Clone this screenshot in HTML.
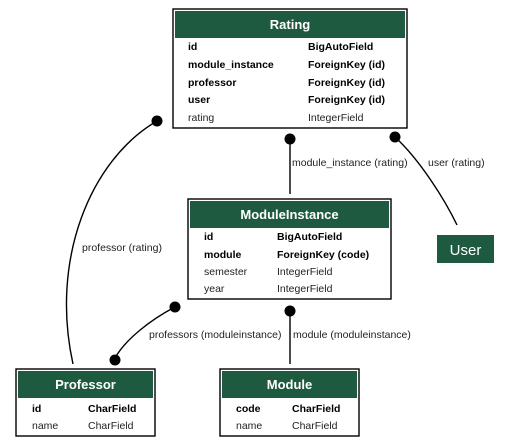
<!DOCTYPE html>
<html><head><meta charset="utf-8"><style>
html,body{margin:0;padding:0;background:#fff;}
svg{display:block;font-family:"Liberation Sans",Arial,sans-serif;}
.h{fill:#fff;font-weight:bold;font-size:13px;}
.b{font-size:10.5px;font-weight:bold;fill:#000;}
.n{font-size:10.5px;fill:#222;}
.l{font-size:10.5px;fill:#222;}
</style></head><body>
<svg width="510" height="446" viewBox="0 0 510 446">
<rect width="510" height="446" fill="#fff"/>
<!-- connectors -->
<g stroke="#000" stroke-width="1.4" fill="none">
<path d="M157,121 C90,160 50,260 73,364"/>
<path d="M395,137 C420,160 445,200 457,225"/>
<path d="M290,139 L290,194"/>
<path d="M175,307 C150,320 125,340 115,358"/>
<path d="M290,311 L290,364"/>
</g>
<g fill="#000">
<circle cx="157" cy="121" r="5.5"/>
<circle cx="395" cy="137" r="5.5"/>
<circle cx="290" cy="139" r="5.5"/>
<circle cx="175" cy="307" r="5.5"/>
<circle cx="115" cy="360" r="5.5"/>
<circle cx="290" cy="311" r="5.5"/>
</g>
<text class="l" x="82" y="251">professor (rating)</text>
<text class="l" x="292" y="166">module_instance (rating)</text>
<text class="l" x="428" y="166">user (rating)</text>
<text class="l" x="149" y="338">professors (moduleinstance)</text>
<text class="l" x="293" y="338">module (moduleinstance)</text>

<!-- Rating -->
<rect x="173" y="9" width="234" height="119" fill="#fff" stroke="#000" stroke-width="1.4"/>
<rect x="175" y="11" width="230" height="27" fill="#1e5a40"/>
<text class="h" x="290" y="29" text-anchor="middle">Rating</text>
<text class="b" x="188" y="50">id</text><text class="b" x="308" y="50">BigAutoField</text>
<text class="b" x="188" y="68">module_instance</text><text class="b" x="308" y="68">ForeignKey (id)</text>
<text class="b" x="188" y="86">professor</text><text class="b" x="308" y="86">ForeignKey (id)</text>
<text class="b" x="188" y="103">user</text><text class="b" x="308" y="103">ForeignKey (id)</text>
<text class="n" x="188" y="121">rating</text><text class="n" x="308" y="121">IntegerField</text>

<!-- ModuleInstance -->
<rect x="188" y="199" width="203" height="100" fill="#fff" stroke="#000" stroke-width="1.4"/>
<rect x="190" y="201" width="199" height="27" fill="#1e5a40"/>
<text class="h" x="289.5" y="219" text-anchor="middle">ModuleInstance</text>
<text class="b" x="204" y="240">id</text><text class="b" x="277" y="240">BigAutoField</text>
<text class="b" x="204" y="258">module</text><text class="b" x="277" y="258">ForeignKey (code)</text>
<text class="n" x="204" y="275">semester</text><text class="n" x="277" y="275">IntegerField</text>
<text class="n" x="204" y="292">year</text><text class="n" x="277" y="292">IntegerField</text>

<!-- User -->
<rect x="437" y="235" width="57" height="28" fill="#1e5a40"/>
<text x="465.5" y="255" text-anchor="middle" font-size="15" fill="#fff">User</text>

<!-- Professor -->
<rect x="16" y="369" width="139" height="67" fill="#fff" stroke="#000" stroke-width="1.4"/>
<rect x="18" y="371" width="135" height="27" fill="#1e5a40"/>
<text class="h" x="85.5" y="389" text-anchor="middle">Professor</text>
<text class="b" x="32" y="412">id</text><text class="b" x="88" y="412">CharField</text>
<text class="n" x="32" y="429">name</text><text class="n" x="88" y="429">CharField</text>

<!-- Module -->
<rect x="220" y="369" width="139" height="67" fill="#fff" stroke="#000" stroke-width="1.4"/>
<rect x="222" y="371" width="135" height="27" fill="#1e5a40"/>
<text class="h" x="289.5" y="389" text-anchor="middle">Module</text>
<text class="b" x="236" y="412">code</text><text class="b" x="292" y="412">CharField</text>
<text class="n" x="236" y="429">name</text><text class="n" x="292" y="429">CharField</text>
</svg>
</body></html>
